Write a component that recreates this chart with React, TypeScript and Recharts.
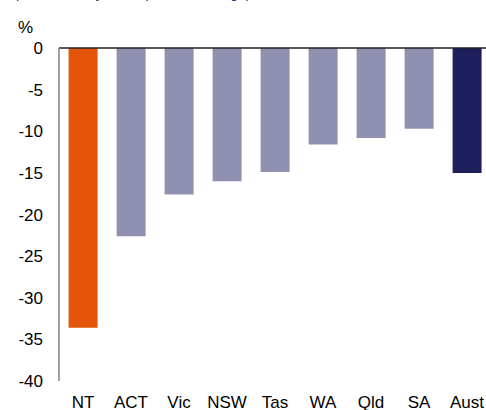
import React from "react";
import { BarChart, Bar, XAxis, YAxis, Cell, ReferenceLine } from "recharts";

const states = ["NT", "ACT", "Vic", "NSW", "Tas", "WA", "Qld", "SA", "Aust"];
const changes = [-33.6, -22.6, -17.6, -16.0, -14.9, -11.6, -10.8, -9.7, -15.0];
const barColors = ["#E4540A", "#9091B0", "#9091B0", "#9091B0", "#9091B0", "#9091B0", "#9091B0", "#9091B0", "#201F5E"];
const yTicks = [0, -5, -10, -15, -20, -25, -30, -35, -40];

const data = states.map((s, i) => ({ name: s, value: changes[i] }));

const font = "'Liberation Sans', Arial, sans-serif";

export default function App() {
  return (
    <div style={{ position: "absolute", left: 0, top: 0, width: 486, height: 410, overflow: "hidden", fontFamily: font }}>
      <BarChart
        width={491}
        height={410}
        data={data}
        margin={{ top: 48, right: 0, bottom: 0, left: 0 }}
        barCategoryGap="20%"
      >
        <XAxis
          dataKey="name"
          axisLine={false}
          tickLine={false}
          tickSize={8}
          tickMargin={7}
          height={29}
          interval={0}
          tick={{ fill: "#000", fontSize: 17, fontFamily: font }}
        />
        <YAxis
          domain={[-40, 0]}
          ticks={yTicks}
          width={59}
          axisLine={{ stroke: "#808080", strokeWidth: 1.5 }}
          tickLine={false}
          tickSize={8}
          tickMargin={8}
          tick={{ fill: "#000", fontSize: 17, fontFamily: font }}
          allowDataOverflow
        />
        <Bar dataKey="value" isAnimationActive={false}>
          {data.map((d, i) => (
            <Cell key={d.name} fill={barColors[i]} />
          ))}
        </Bar>
        <ReferenceLine y={0} stroke="#222" strokeWidth={1.5} />
        <text x={18} y={33} fontSize={17} fontFamily={font} fill="#000">%</text>
        <text x={14} y={-2} fontSize={14} fontFamily={font} fill="#262A6E">(annual hourly rates, per cent change)</text>
      </BarChart>
    </div>
  );
}
